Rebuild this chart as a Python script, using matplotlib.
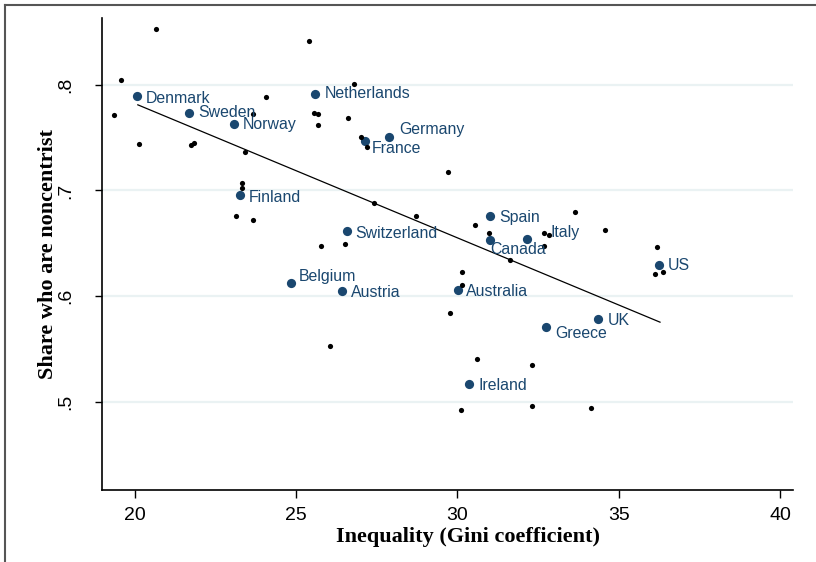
import numpy as np
import matplotlib
matplotlib.use("Agg")
import matplotlib.pyplot as plt
from matplotlib.lines import Line2D

# labelled countries: gini, share noncentrist
countries = ["Denmark", "Sweden", "Norway", "Netherlands", "Germany", "France",
             "Finland", "Switzerland", "Belgium", "Austria", "Spain", "Canada",
             "Italy", "US", "Australia", "UK", "Greece", "Ireland"]
gini = [20.07, 21.70, 23.07, 25.60, 27.89, 27.13,
        23.26, 26.57, 24.85, 26.42, 31.02, 31.01,
        32.15, 36.25, 30.01, 34.37, 32.76, 30.37]
share = [0.789, 0.7735, 0.7626, 0.7915, 0.7509, 0.7465,
         0.6955, 0.6617, 0.6123, 0.6053, 0.6759, 0.6529,
         0.6542, 0.6299, 0.6060, 0.5786, 0.5707, 0.5171]
# label offsets in pixels (dx, dy)
lab_off = [(9, -2), (9, 0), (9, 0), (9, 0), (10, 7), (7, -7),
           (9, -2), (9, -2), (8, 7), (9, -2), (9, -2), (0, -9),
           (24, 6), (9, -1), (8, -2), (9, -2), (9, -6), (9, -2)]

# other country-years
other_gini = [20.66, 25.39, 19.57, 26.79, 19.37, 24.07, 23.67, 25.57, 25.68,
              25.67, 26.61, 20.15, 21.74, 21.85, 23.41, 27.03, 27.21, 27.41,
              23.34, 23.34, 23.14, 23.68, 25.77, 26.52, 29.71, 28.72, 30.54,
              30.97, 33.65, 32.68, 32.85, 34.59, 32.67, 31.63, 36.20, 30.14,
              36.12, 36.38, 30.14, 29.77, 30.61, 32.31, 30.12, 32.31, 34.14,
              26.04]
other_share = [0.8524, 0.8416, 0.8042, 0.8009, 0.7711, 0.7881, 0.772, 0.773,
               0.772, 0.7619, 0.7688, 0.7437, 0.7433, 0.7446, 0.7364, 0.7506,
               0.7411, 0.6882, 0.7074, 0.7021, 0.6759, 0.6724, 0.6473, 0.6497,
               0.7178, 0.6756, 0.6677, 0.6601, 0.6800, 0.6598, 0.6582, 0.663,
               0.6478, 0.6346, 0.6469, 0.6233, 0.6211, 0.6233, 0.6104, 0.5845,
               0.541, 0.5351, 0.4928, 0.4960, 0.4947, 0.5527]

# fitted line (lfit) end points
fit_x = [20.10, 36.28]
fit_y = [0.781, 0.5755]

xticks = [20, 25, 30, 35, 40]
yticks = [0.5, 0.6, 0.7, 0.8]
ytick_labels = [".5", ".6", ".7", ".8"]

navy = "#1a476f"

fig = plt.figure(figsize=(8.16, 5.62), dpi=100)
ax = fig.add_axes([0.1254, 0.1281, 0.846, 0.8393])

for y in yticks:
    ax.axhline(y, color="#eaf2f3", lw=1.6, zorder=0)

ax.scatter(other_gini, other_share, s=14, color="black", zorder=3, lw=0)
ax.scatter(gini, share, s=44, color=navy, zorder=2, lw=0)

for name, x, y, (dx, dy) in zip(countries, gini, share, lab_off):
    ax.annotate(name, (x, y), xytext=(dx * 0.72, dy * 0.72),
                textcoords="offset points", ha="left", va="center",
                fontsize=11.4, color=navy, family="Liberation Sans", zorder=4)

ax.plot(fit_x, fit_y, color="black", lw=0.9, zorder=1)

ax.set_xlim(19.0, 40.39)
ax.set_ylim(0.4168, 0.8628)
ax.set_xticks(xticks)
ax.set_xticklabels([str(t) for t in xticks], family="Liberation Sans", fontsize=14)
ax.set_yticks(yticks)
ax.set_yticklabels(ytick_labels, family="Liberation Sans", fontsize=14,
                   rotation=90, va="center")
ax.tick_params(axis="x", direction="out", length=6, width=1, pad=6.5)
ax.tick_params(axis="y", direction="out", length=5, width=1, pad=15)

for s in ["top", "right"]:
    ax.spines[s].set_visible(False)
for s in ["left", "bottom"]:
    ax.spines[s].set_linewidth(1.2)

ax.set_xlabel("Inequality (Gini coefficient)", family="Liberation Serif",
              fontweight="bold", fontsize=16)
ax.xaxis.set_label_coords(0.53, -0.0996)
ax.xaxis.label.set_va("center")
ax.set_ylabel("Share who are noncentrist", family="Liberation Serif",
              fontweight="bold", fontsize=16)
ax.yaxis.set_label_coords(-0.079, 0.5)
ax.yaxis.label.set_va("center")

# outer frame
fig.add_artist(Line2D([4.5 / 816, 1], [1 - 4.5 / 562, 1 - 4.5 / 562],
                      transform=fig.transFigure, color="#555555", lw=1.5))
fig.add_artist(Line2D([4.5 / 816, 4.5 / 816], [0, 1 - 4.5 / 562],
                      transform=fig.transFigure, color="#555555", lw=1.5))

fig.savefig("out.png", dpi=100)
